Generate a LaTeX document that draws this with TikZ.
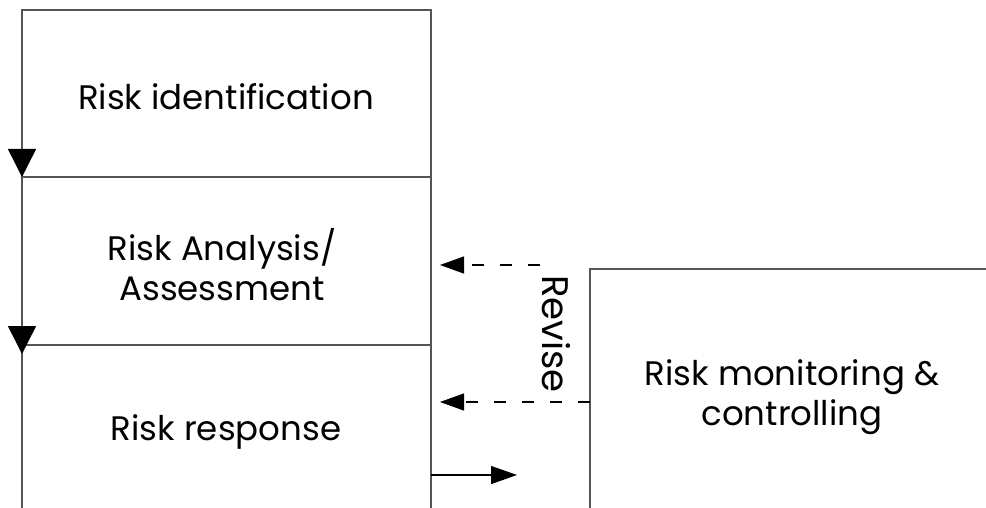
\documentclass[tikz,border=0pt]{standalone}
\usepackage{fontspec}
\setmainfont{Poppins}
\usetikzlibrary{arrows.meta}
\definecolor{edge}{RGB}{85,85,85}
\begin{document}
\begin{tikzpicture}[x=1pt,y=1pt,
  blk/.style={draw=edge, line width=1.4pt, anchor=north west, inner sep=0pt, outer sep=0pt},
  lbl/.style={font=\fontsize{34}{40}\selectfont, align=center, text=black},
  downtip/.style={line width=1.4pt, draw=edge, -{Triangle[width=28pt,length=28pt,black]}},
  dasharrow/.style={line width=1.2pt, draw=black, dash pattern=on 12pt off 16pt, -{Triangle[width=17pt,length=24pt]}},
  solidarrow/.style={line width=1.2pt, draw=black, -{Triangle[width=18pt,length=26pt]}}]
\useasboundingbox (0,0) rectangle (986,-508);
\clip (0,0) rectangle (986,-508);
\node[blk, minimum width=409pt, minimum height=167pt] (idbox) at (22,-10) {};
\node[blk, minimum width=409pt, minimum height=168pt] (anbox) at (22,-177) {};
\node[blk, minimum width=409pt, minimum height=180pt] (rebox) at (22,-345) {};
\node[blk, minimum width=420pt, minimum height=260pt] (mobox) at (590,-269) {};
\node[lbl] (t1) at (226,-97) {Risk identification};
\node[lbl] (t2) at (222,-265) {Risk Analysis/\\Assessment};
\node[lbl] (t3) at (226,-432) {Risk response};
\node[lbl] (t4) at (792,-397) {Risk monitoring \&\\controlling};
\node[lbl, rotate=-90, font=\fontsize{37}{40}\selectfont] (rev) at (556,-334) {Revise};
\coordinate (a1s) at ([yshift=40pt]idbox.south west);
\coordinate (a2s) at ([yshift=40pt]anbox.south west);
\coordinate (a2e) at ([yshift=-9pt]anbox.south west);
\draw[downtip] (a1s) -- (idbox.south west);
\draw[downtip] (a2s) -- (a2e);
\coordinate (d1s) at (540,-265);
\coordinate (d1e) at (440,-265);
\coordinate (d2e) at (440,-402);
\draw[dasharrow] (d1s) -- (d1e);
\draw[dasharrow] (mobox.west |- d2e) -- (d2e);
\coordinate (s1e) at (517,-475);
\draw[solidarrow] (rebox.east |- s1e) -- (s1e);
\end{tikzpicture}
\end{document}
